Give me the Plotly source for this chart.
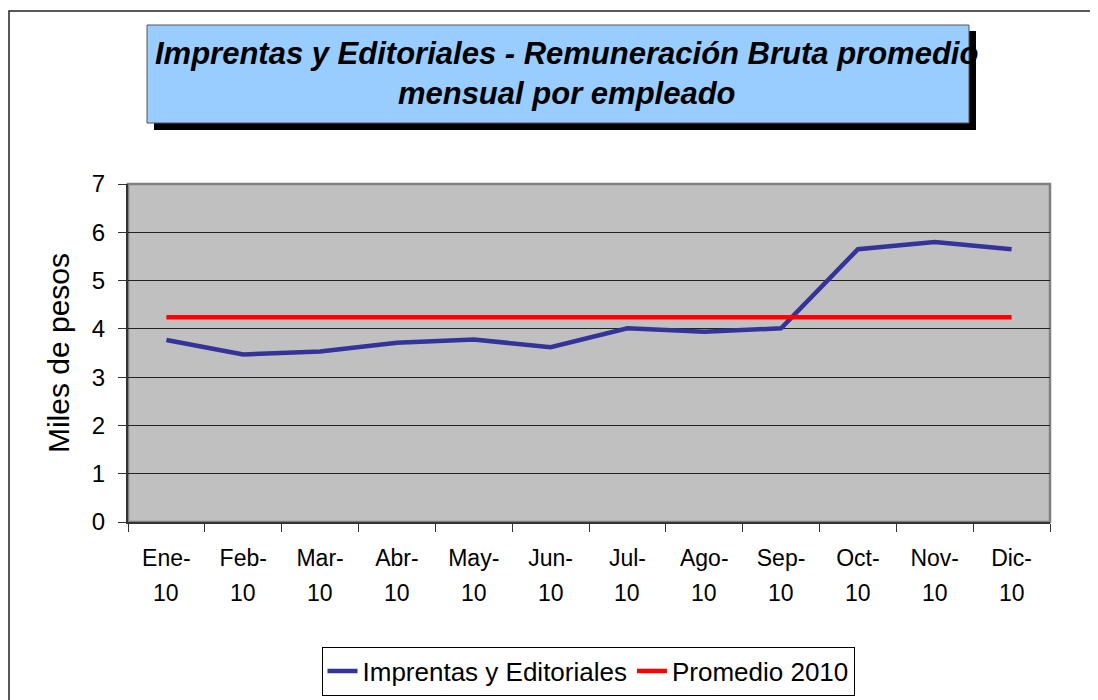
import plotly.graph_objects as go

months = ["Ene-", "Feb-", "Mar-", "Abr-", "May-", "Jun-", "Jul-", "Ago-", "Sep-", "Oct-", "Nov-", "Dic-"]
year_labels = ["10"] * 12
imprentas = [3.77, 3.47, 3.53, 3.71, 3.78, 3.62, 4.01, 3.94, 4.01, 5.65, 5.80, 5.65]
promedio = [4.24] * 12
y_ticks = [0, 1, 2, 3, 4, 5, 6, 7]

# page body has an 8px margin: figure pixel = reference pixel - 8
OFF = 8
W, H = 1098 - OFF, 700 - OFF
L, R, T, B = 128 - OFF, 1050 - OFF, 184 - OFF, 522 - OFF

def px(x):
    return (x - OFF - L) / (R - L)

def py(y):
    return (B - (y - OFF)) / (B - T)

FONT = "Liberation Sans, Arial, sans-serif"

fig = go.Figure()
fig.add_trace(go.Scatter(x=months, y=imprentas, mode="lines", name="Imprentas y Editoriales",
                         line=dict(color="#333399", width=4.5)))
fig.add_trace(go.Scatter(x=months, y=promedio, mode="lines", name="Promedio 2010",
                         line=dict(color="#FF0000", width=4.5)))

shapes = [
    # outer chart frame
    dict(type="rect", xref="paper", yref="paper", x0=px(9), x1=px(1120), y0=py(730), y1=py(11),
         line=dict(color="#222222", width=1.5), fillcolor="rgba(0,0,0,0)", layer="below"),
    # title shadow
    dict(type="rect", xref="paper", yref="paper", x0=px(154), x1=px(976), y0=py(130), y1=py(31),
         line=dict(width=0), fillcolor="#000000", layer="above"),
    # title box
    dict(type="rect", xref="paper", yref="paper", x0=px(147), x1=px(969), y0=py(123), y1=py(25),
         line=dict(color="#555555", width=1), fillcolor="#99CCFF", layer="above"),
    # plot area border (gray)
    dict(type="rect", xref="paper", yref="paper", x0=0, x1=1, y0=0, y1=1,
         line=dict(color="#808080", width=2.5), fillcolor="rgba(0,0,0,0)", layer="below"),
]

fig.add_annotation(xref="paper", yref="paper", x=px(566), y=py(74), xanchor="center", yanchor="middle",
                   text="<b><i>Imprentas y Editoriales - Remuneración Bruta promedio<br>mensual por empleado</i></b>",
                   showarrow=False, font=dict(family=FONT, size=31, color="#000000"), align="center")

# second row of the category labels (year)
for m, yl in zip(months, year_labels):
    fig.add_annotation(xref="x", yref="paper", x=m, y=py(593), xanchor="center", yanchor="middle",
                       text=yl, showarrow=False, font=dict(family=FONT, size=23, color="#000000"))

fig.update_layout(
    width=W, height=H,
    margin=dict(l=L, r=W - R, t=T, b=H - B, pad=0),
    paper_bgcolor="#FFFFFF",
    plot_bgcolor="#C0C0C0",
    shapes=shapes,
    showlegend=True,
    legend=dict(orientation="h", xref="container", yref="container",
                x=(588 - OFF) / W, xanchor="center", y=1 - (671 - OFF) / H, yanchor="middle",
                bordercolor="#000000", borderwidth=1, bgcolor="#FFFFFF",
                font=dict(family=FONT, size=26, color="#000000"),
                tracegroupgap=0),
    font=dict(family=FONT, color="#000000"),
)

fig.update_xaxes(
    type="category", range=[-0.5, 11.5], tickson="boundaries", ticks="outside", ticklen=8,
    tickcolor="#333333", tickwidth=1, showgrid=False, showline=True, linecolor="#333333", linewidth=2,
    tickfont=dict(family=FONT, size=23, color="#000000"), zeroline=False, ticklabelstandoff=14,
)
fig.update_yaxes(
    range=[0, 7], tickvals=y_ticks, ticks="outside", ticklen=8, tickcolor="#333333", tickwidth=1,
    showgrid=True, gridcolor="#222222", gridwidth=1, showline=True, linecolor="#333333", linewidth=2,
    tickfont=dict(family=FONT, size=24, color="#000000"), zeroline=False, ticklabelstandoff=8,
    title=dict(text="Miles de pesos", font=dict(family=FONT, size=30, color="#000000"), standoff=13),
)

fig.write_html("out.html")
